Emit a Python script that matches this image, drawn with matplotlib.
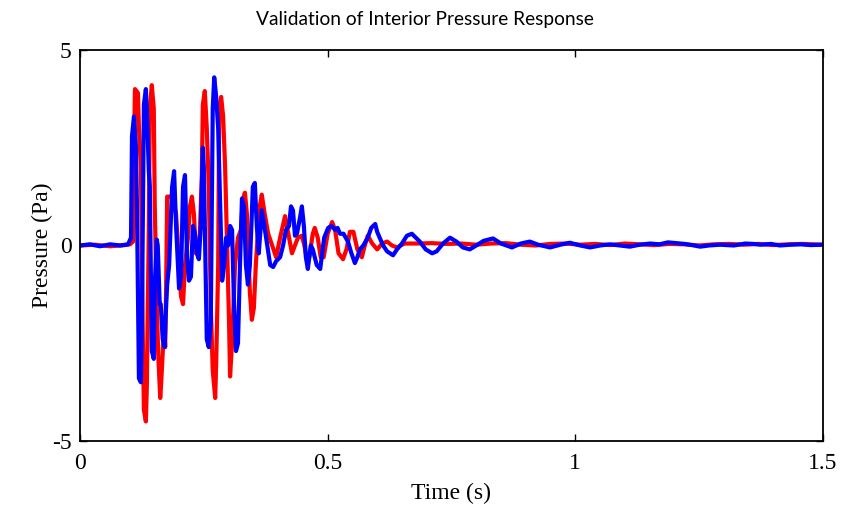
import matplotlib
matplotlib.use('Agg')
import matplotlib.pyplot as plt

plt.rcParams['axes.unicode_minus'] = False

t_red = [0.000, 0.030, 0.061, 0.091, 0.101, 0.107, 0.109, 0.111, 0.117, 0.119,
         0.123, 0.127, 0.129, 0.133, 0.135, 0.139, 0.141, 0.145, 0.149, 0.151,
         0.155, 0.158, 0.162, 0.164, 0.168, 0.170, 0.172, 0.174, 0.176, 0.182,
         0.188, 0.194, 0.200, 0.204, 0.208, 0.212, 0.218, 0.222, 0.226, 0.230,
         0.234, 0.238, 0.242, 0.246, 0.248, 0.252, 0.256, 0.260, 0.264, 0.268,
         0.273, 0.275, 0.279, 0.281, 0.285, 0.289, 0.293, 0.297, 0.301, 0.303,
         0.307, 0.313, 0.319, 0.325, 0.329, 0.333, 0.337, 0.343, 0.347, 0.351,
         0.355, 0.359, 0.363, 0.367, 0.373, 0.380, 0.388, 0.396, 0.404, 0.414,
         0.422, 0.428, 0.440, 0.448, 0.453, 0.458, 0.463, 0.470, 0.474, 0.480,
         0.486, 0.492, 0.500, 0.509, 0.515, 0.522, 0.531, 0.538, 0.545, 0.552,
         0.560, 0.569, 0.575, 0.581, 0.590, 0.600, 0.610, 0.620, 0.630, 0.640,
         0.655, 0.680, 0.710, 0.740, 0.770, 0.800, 0.830, 0.860, 0.890, 0.920,
         0.950, 0.980, 1.010, 1.040, 1.070, 1.100, 1.130, 1.160, 1.190, 1.220,
         1.250, 1.280, 1.310, 1.340, 1.370, 1.400, 1.430, 1.460, 1.500]
p_red = [0.00, 0.02, -0.02, 0.01, 0.03, 0.10, 2.5, 4.0, 3.9, 3.0,
         2.0, -2.5, -4.2, -4.5, -3.6, 0.5, 3.5, 4.1, 3.5, 1.0,
         -1.5, -2.8, -3.9, -3.5, -2.5, -2.0, -2.6, -1.0, 1.25, 1.25,
         1.2, 0.8, -0.5, -1.3, -1.5, -0.5, 0.2, 1.0, 1.25, 0.8,
         -0.2, -0.2, 0.3, 1.8, 3.6, 3.95, 3.0, 1.5, -1.5, -3.2,
         -3.9, -3.0, -0.5, 3.5, 3.8, 3.3, 2.0, 0.0, -2.0, -3.35,
         -2.5, -0.5, 0.2, 0.4, 1.2, 1.35, 0.8, -1.2, -1.9, -1.6,
         -0.5, 0.3, 1.0, 1.3, 0.8, 0.3, 0.0, -0.3, 0.2, 0.75,
         0.2, -0.2, 0.2, 0.25, 0.0, -0.35, -0.3, 0.3, 0.45, 0.2,
         -0.3, -0.3, 0.3, 0.6, 0.4, -0.2, -0.35, -0.1, 0.35, 0.35,
         -0.1, -0.3, 0.0, 0.25, 0.05, -0.1, 0.05, 0.1, 0.0, -0.05,
         0.05, 0.05, 0.06, 0.04, 0.05, 0.02, 0.05, 0.06, 0.02, 0.0,
         0.04, 0.05, 0.02, 0.04, 0.01, 0.05, 0.03, 0.01, 0.04, 0.03,
         0.0, 0.03, 0.04, 0.02, 0.04, 0.01, 0.03, 0.04, 0.02]

t_blue = [0.000, 0.020, 0.040, 0.061, 0.081, 0.097, 0.103, 0.105, 0.109, 0.113,
          0.115, 0.119, 0.123, 0.125, 0.129, 0.133, 0.135, 0.139, 0.141, 0.145,
          0.149, 0.151, 0.155, 0.157, 0.161, 0.163, 0.167, 0.171, 0.173, 0.176,
          0.180, 0.186, 0.190, 0.194, 0.200, 0.204, 0.208, 0.212, 0.216, 0.220,
          0.224, 0.228, 0.232, 0.236, 0.240, 0.244, 0.248, 0.250, 0.256, 0.260,
          0.264, 0.268, 0.271, 0.275, 0.279, 0.283, 0.287, 0.291, 0.295, 0.299,
          0.303, 0.307, 0.311, 0.315, 0.319, 0.323, 0.327, 0.331, 0.335, 0.339,
          0.343, 0.349, 0.353, 0.357, 0.361, 0.365, 0.367, 0.371, 0.378, 0.384,
          0.390, 0.396, 0.404, 0.410, 0.416, 0.422, 0.426, 0.430, 0.434, 0.438,
          0.444, 0.448, 0.452, 0.456, 0.460, 0.466, 0.470, 0.478, 0.485, 0.493,
          0.501, 0.508, 0.515, 0.520, 0.525, 0.532, 0.541, 0.548, 0.555, 0.560,
          0.565, 0.572, 0.581, 0.588, 0.596, 0.600, 0.605, 0.612, 0.620, 0.632,
          0.640, 0.650, 0.660, 0.670, 0.678, 0.686, 0.698, 0.711, 0.720, 0.733,
          0.747, 0.760, 0.773, 0.787, 0.800, 0.815, 0.834, 0.850, 0.872, 0.890,
          0.908, 0.925, 0.949, 0.970, 0.989, 1.010, 1.030, 1.050, 1.070, 1.090,
          1.110, 1.130, 1.151, 1.170, 1.187, 1.205, 1.221, 1.240, 1.252, 1.270,
          1.292, 1.320, 1.343, 1.360, 1.373, 1.395, 1.413, 1.435, 1.454, 1.475,
          1.500]
p_blue = [0.00, 0.03, -0.02, 0.03, 0.00, 0.03, 0.20, 2.8, 3.3, 2.5,
          1.0, -3.4, -3.5, -2.0, 3.6, 4.0, 3.5, 1.9, 1.5, -2.7,
          -2.9, -1.0, 0.15, 0.0, -1.5, -1.5, -2.4, -2.6, -1.8, -1.0,
          -0.5, 1.5, 1.9, 0.5, -1.1, -0.8, 1.5, 1.8, -0.3, -0.9,
          -0.8, 0.5, 0.3, -0.2, -0.35, 0.5, 2.5, 2.0, -2.4, -2.6,
          -2.0, 3.5, 4.3, 3.8, 3.0, 1.0, -0.9, -0.5, 0.2, 0.0,
          0.5, 0.4, -1.5, -2.7, -2.5, -0.5, 1.2, 1.0, -0.5, -1.0,
          -0.5, 1.5, 1.6, 0.5, -0.2, 0.5, 0.9, 0.6, 0.0, -0.5,
          -0.55, -0.4, -0.3, 0.0, 0.4, 0.5, 1.0, 0.9, 0.25, 0.3,
          0.7, 1.0, 0.5, -0.3, -0.6, 0.0, -0.1, -0.5, -0.6, 0.2,
          0.45, 0.5, 0.4, 0.45, 0.3, 0.3, 0.1, -0.2, -0.45, -0.3,
          -0.1, 0.0, 0.2, 0.45, 0.55, 0.35, 0.2, 0.0, -0.15, -0.25,
          -0.1, 0.05, 0.25, 0.3, 0.2, 0.1, -0.1, -0.2, -0.15, 0.05,
          0.2, 0.1, -0.05, -0.1, 0.0, 0.12, 0.18, 0.05, -0.05, 0.05,
          0.1, 0.02, -0.05, 0.02, 0.07, 0.0, -0.05, 0.0, 0.03, 0.0,
          -0.03, 0.02, 0.05, 0.03, 0.08, 0.06, 0.04, 0.0, -0.03, 0.0,
          0.02, 0.0, 0.05, 0.04, 0.02, 0.04, 0.0, 0.02, 0.03, 0.01,
          0.02]

x_ticks = [0, 0.5, 1, 1.5]
x_labels = ['0', '0.5', '1', '1.5']
y_ticks = [-5, 0, 5]

fig = plt.figure(figsize=(8.5, 5.07), dpi=100)
ax = fig.add_axes([0.0941, 0.1302, 0.8741, 0.7712])

ax.plot(t_red, p_red, color='#ff0000', lw=3.0)
ax.plot(t_blue, p_blue, color='#0000ff', lw=3.0)

ax.set_xlim(0, 1.5)
ax.set_ylim(-5, 5)
ax.set_xticks(x_ticks)
ax.set_xticklabels(x_labels)
ax.set_yticks(y_ticks)

serif = 'Liberation Serif'
for lab in ax.get_xticklabels() + ax.get_yticklabels():
    lab.set_family(serif)
    lab.set_fontsize(17)
ax.tick_params(direction='in', length=5, width=1, top=True, right=True, pad=6)
ax.tick_params(axis='x', pad=9)
for s in ax.spines.values():
    s.set_linewidth(1.3)

ax.set_xlabel('Time (s)', family=serif, fontsize=17, labelpad=6)
ax.set_ylabel('Pressure (Pa)', family=serif, fontsize=17, labelpad=-1)
ax.set_title('Validation of Interior Pressure Response', family='Lato',
             fontsize=13.8, pad=18, x=0.464)

fig.savefig('out.png', dpi=100)
